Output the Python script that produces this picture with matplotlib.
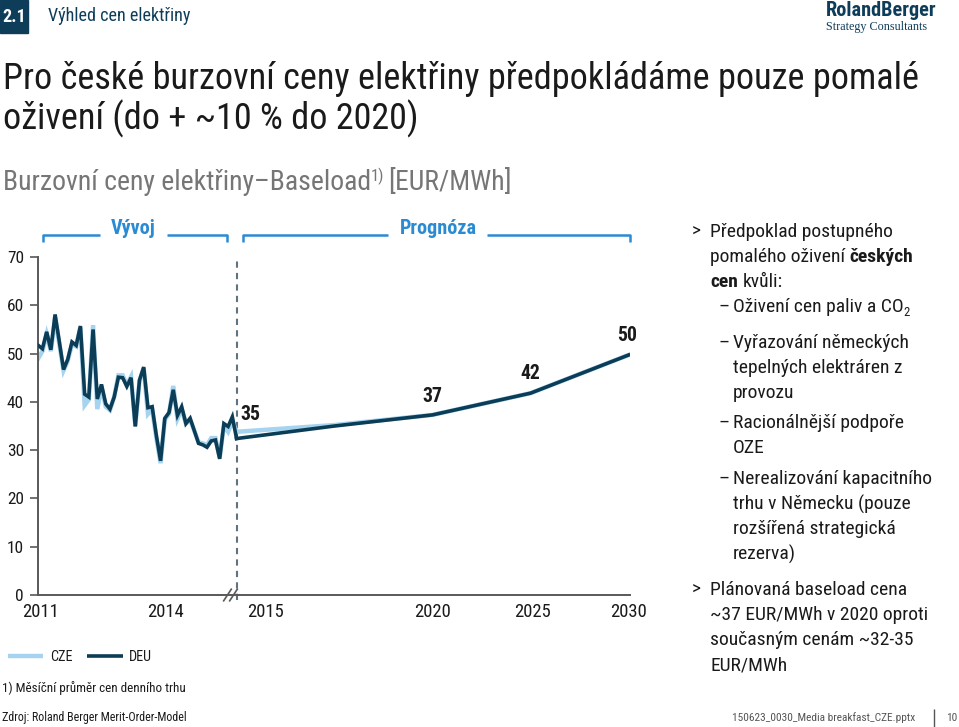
import matplotlib
matplotlib.use('Agg')
import matplotlib.pyplot as plt
from matplotlib.lines import Line2D
from matplotlib.patches import Rectangle
from matplotlib import font_manager

# ---------------- data ----------------
deu_hist = [51.7, 51.0, 54.5, 50.8, 58.1, 52.5, 46.7, 48.8, 52.4, 51.7,
            55.7, 41.6, 41.0, 55.0, 40.6, 43.6, 39.6, 38.5, 41.0, 45.1,
            45.0, 43.2, 45.0, 34.9, 44.5, 47.2, 38.8, 39.0, 33.0, 27.8,
            36.6, 37.8, 42.5, 37.2, 39.0, 35.5, 36.6, 34.0, 31.4, 31.1,
            30.6, 31.9, 32.1, 28.2, 35.5, 34.9, 36.9]
cze_hist = [49.0, 50.5, 54.0, 50.5, 57.5, 52.0, 46.5, 48.5, 52.0, 51.5,
            55.5, 39.3, 40.5, 55.9, 38.5, 43.0, 39.0, 38.3, 41.0, 45.5,
            45.5, 43.5, 45.2, 35.0, 44.3, 47.0, 37.5, 38.5, 32.5, 27.3,
            36.3, 37.5, 43.3, 36.5, 38.5, 35.5, 36.3, 34.0, 31.6, 31.4,
            31.0, 32.5, 32.5, 28.5, 35.0, 33.8, 36.0]
fc_years = ['2015', '2017', '2020', '2025', '2030']
deu_fc = [32.4, 35.0, 37.3, 41.8, 49.7]
cze_fc = [33.8, 35.2, 37.3, 41.8, 49.7]
fc_labels = ['35', '', '37', '42', '50']
x_tick_labels = ['2011', '2014', '2015', '2020', '2025', '2030']
y_ticks = [0, 10, 20, 30, 40, 50, 60, 70]
series_names = ['CZE', 'DEU']

# ---------------- style ----------------
W, H = 959, 727
DEU_C = '#0c3d57'
CZE_C = '#a6d3f0'
BLUE = '#2a8ad2'
NAVY = '#0e3d5a'
GRAY = '#595959'
TXT = '#1a1a1a'

names = {f.name for f in font_manager.fontManager.ttflist}
NARROW = 'DejaVu Sans'
for cand in ['Nimbus Sans Narrow', 'Roboto Condensed', 'Archivo Narrow',
             'Liberation Sans Narrow', 'Arial Narrow']:
    if cand in names:
        NARROW = cand
        break
SERIF = 'Liberation Serif' if 'Liberation Serif' in names else 'DejaVu Serif'
plt.rcParams['font.family'] = [NARROW, 'DejaVu Sans']

fig = plt.figure(figsize=(W / 100, H / 100), dpi=100)
renderer = fig.canvas.get_renderer()


def fx(x):
    return x / W


def fy(y):
    return 1 - y / H


def text_w(s, size, weight='normal', family=None):
    t = fig.text(0, 0, s, fontsize=size, fontweight=weight,
                 family=family if family else plt.rcParams['font.family'])
    w = t.get_window_extent(renderer).width
    t.remove()
    return w


def fit(s, target_px, weight='normal', family=None):
    return 20.0 * target_px / text_w(s, 20.0, weight, family)


def seq(x, y, pieces, size, color=TXT):
    """pieces: list of (text, weight, size_factor, dy_px, space_after)"""
    cur = x
    for txt, weight, sf, dy, sp in pieces:
        s = size * sf
        t = fig.text(fx(cur), fy(y + dy), txt, fontsize=s, fontweight=weight,
                     color=color, ha='left', va='center')
        cur += t.get_window_extent(renderer).width
        if sp:
            cur += text_w('x x', s, weight) - text_w('xx', s, weight)


# fitted font sizes (matched to reference text widths)
S_TITLE = fit('Pro české burzovní ceny elektřiny předpokládáme pouze pomalé', 913)
S_SUB = fit('Burzovní ceny elektřiny–Baseload', 368)
S_RIGHT = fit('Předpoklad postupného', 182)
S_YT = fit('60', 17)
S_XT = fit('2030', 37)
S_LAB = fit('50', 20, 'bold')
S_BR = fit('Prognóza', 77, 'bold')
S_HEAD = fit('Výhled cen elektřiny', 143)
S_LOGO = fit('RolandBerger', 110, 'bold')
S_LOGO2 = fit('Strategy Consultants', 101, family=SERIF)
S_NOTE = fit('1) Měsíční průměr cen denního trhu', 184)
S_SRC = fit('Zdroj: Roland Berger Merit-Order-Model', 185)
S_FILE = fit('150623_0030_Media breakfast_CZE.pptx', 184)
S_LEG = fit('DEU', 23)

# ---------------- axes ----------------
px_left, px_right, px_bottom, px_top = 38, 630, 595, 257
ax = fig.add_axes([fx(px_left), fy(px_bottom), (px_right - px_left) / W,
                   (px_bottom - px_top) / H])
month_px = 4.22
fc_step_px = 98.0
n_hist = len(deu_hist)
hist_x = list(range(n_hist))
fc_start = n_hist
fc_x = [fc_start + k * fc_step_px / month_px for k in range(len(fc_years))]
ax.set_xlim(-0.05, (px_right - px_left) / month_px - 0.05)
ax.set_ylim(0, 70)

ax.plot(hist_x + [fc_x[0]], cze_hist + [cze_fc[0]], color=CZE_C, lw=3.2,
        solid_joinstyle='miter', zorder=2)
ax.plot(fc_x, cze_fc, color=CZE_C, lw=3.2, zorder=2)
ax.plot(hist_x + [fc_x[0]], deu_hist + [deu_fc[0]], color=DEU_C, lw=2.6,
        solid_joinstyle='miter', zorder=3)
ax.plot(fc_x, deu_fc, color=DEU_C, lw=2.6, zorder=3)

label_offsets = [(10, 17), None, (0, 13), (0, 14), (-1, 14)]
for xv, yv, lab, off in zip(fc_x, deu_fc, fc_labels, label_offsets):
    if lab:
        ax.annotate(lab, (xv, yv), xytext=off, textcoords='offset points',
                    ha='center', va='center', fontsize=S_LAB, fontweight='bold',
                    color=TXT)

for sp in ['top', 'right']:
    ax.spines[sp].set_visible(False)
for sp in ['left', 'bottom']:
    ax.spines[sp].set_color(GRAY)
    ax.spines[sp].set_linewidth(1.4)
ax.set_yticks(y_ticks)
ax.set_yticklabels([str(v) for v in y_ticks])
ax.tick_params(axis='y', length=6, width=1.2, color=GRAY, pad=4,
               labelsize=S_YT, labelcolor=TXT)
tick_px = [40, 165, 265, 432, 532, 628]
ax.set_xticks([(p - px_left) / month_px for p in tick_px])
ax.set_xticklabels(x_tick_labels)
ax.tick_params(axis='x', length=0, pad=6, labelsize=S_XT, labelcolor=TXT)
ax.set_facecolor('none')

# dashed separator
ax.plot([fc_start, fc_start], [-1, 70], color='#5f7380', lw=1.5,
        ls=(0, (3, 2.5)), clip_on=False, zorder=1)
# axis break marks
for dxp in (-4, 2):
    xb = fc_start - 1.2 + dxp / month_px
    ax.plot([xb - 0.9, xb + 0.9], [-1.2, 1.2], color=GRAY, lw=1.2,
            clip_on=False, zorder=4)


# ---------------- brackets ----------------
def fline(xs, ys, color=BLUE, lw=1.8):
    fig.add_artist(Line2D([fx(v) for v in xs], [fy(v) for v in ys],
                          color=color, lw=lw, solid_capstyle='butt'))


fline([43, 43, 100], [242, 235, 235])
fline([167, 227, 227], [235, 235, 242])
fig.text(fx(133), fy(229), 'Vývoj', color=BLUE, fontsize=S_BR,
         fontweight='bold', ha='center', va='center')
fline([243, 243, 388], [242, 235, 235])
fline([487, 630, 630], [235, 235, 242])
fig.text(fx(438), fy(229), 'Prognóza', color=BLUE, fontsize=S_BR,
         fontweight='bold', ha='center', va='center')

# ---------------- legend ----------------
fline([8, 43], [656, 656], color=CZE_C, lw=3.2)
fig.text(fx(50), fy(657), series_names[0], fontsize=S_LEG, color=TXT,
         ha='left', va='center')
fline([87, 123], [656, 656], color=DEU_C, lw=2.6)
fig.text(fx(129), fy(657), series_names[1], fontsize=S_LEG, color=TXT,
         ha='left', va='center')

# ---------------- header ----------------
fig.add_artist(Rectangle((0, fy(33)), fx(28), 33 / H, color=NAVY,
                         transform=fig.transFigure))
fig.text(fx(14), fy(17), '2.1', color='white', fontsize=S_HEAD,
         fontweight='bold', ha='center', va='center')
fig.text(fx(48), fy(16), 'Výhled cen elektřiny', color=NAVY, fontsize=S_HEAD,
         ha='left', va='center')
fig.text(fx(826), fy(11), 'RolandBerger', color=NAVY, fontsize=S_LOGO,
         fontweight='bold', ha='left', va='center')
fig.text(fx(826), fy(27), 'Strategy Consultants', color=NAVY, fontsize=S_LOGO2,
         family=[SERIF, 'DejaVu Serif'], ha='left', va='center')

fig.text(fx(3), fy(79), 'Pro české burzovní ceny elektřiny předpokládáme pouze pomalé',
         fontsize=S_TITLE, color=TXT, ha='left', va='center')
fig.text(fx(3), fy(119), 'oživení (do + ~10 % do 2020)', fontsize=S_TITLE,
         color=TXT, ha='left', va='center')
seq(3, 182, [('Burzovní ceny elektřiny–Baseload', 'normal', 1.0, 0, False),
             ('1)', 'normal', 0.6, -6, True),
             ('[EUR/MWh]', 'normal', 1.0, 0, False)], S_SUB, color='#767676')

# ---------------- right text ----------------
RS = S_RIGHT


def rline(y, pieces, x=710):
    seq(x, y, pieces, RS)


def n(s, sp=False):
    return (s, 'normal', 1.0, 0, sp)


def b(s, sp=False):
    return (s, 'bold', 1.0, 0, sp)


fig.text(fx(692), fy(232), '>', fontsize=RS, color=TXT, ha='left', va='center')
rline(232, [n('Předpoklad postupného')])
rline(257, [n('pomalého oživení', True), b('českých')])
rline(282, [b('cen', True), n('kvůli:')])
for yy in (307, 343, 423, 479):
    fig.text(fx(718), fy(yy), '–', fontsize=RS, color=TXT, ha='left', va='center')
rline(307, [n('Oživení cen paliv a CO'), ('2', 'normal', 0.65, 5, False)], x=733)
rline(343, [n('Vyřazování německých')], x=733)
rline(368, [n('tepelných elektráren z')], x=733)
rline(393, [n('provozu')], x=733)
rline(423, [n('Racionálnější podpoře')], x=733)
rline(448, [n('OZE')], x=733)
rline(479, [n('Nerealizování kapacitního')], x=733)
rline(504, [n('trhu v Německu (pouze')], x=733)
rline(529, [n('rozšířená strategická')], x=733)
rline(554, [n('rezerva)')], x=733)
fig.text(fx(692), fy(590), '>', fontsize=RS, color=TXT, ha='left', va='center')
rline(590, [n('Plánovaná baseload cena')])
rline(615, [n('~37 EUR/MWh v 2020 oproti')])
rline(640, [n('současným cenám ~32-35')])
rline(665, [n('EUR/MWh')])

# ---------------- footer ----------------
fig.text(fx(2), fy(688), '1) Měsíční průměr cen denního trhu', fontsize=S_NOTE,
         color=TXT, ha='left', va='center')
fig.text(fx(2), fy(718), 'Zdroj: Roland Berger Merit-Order-Model', fontsize=S_SRC,
         color=TXT, ha='left', va='center')
fig.text(fx(915), fy(718), '150623_0030_Media breakfast_CZE.pptx', fontsize=S_FILE,
         color='#555555', ha='right', va='center')
fline([934, 934], [709, 727], color='#555555', lw=1.0)
fig.text(fx(952), fy(718), '10', fontsize=S_FILE, color='#555555', ha='center',
         va='center')

fig.savefig('out.png', dpi=100)
